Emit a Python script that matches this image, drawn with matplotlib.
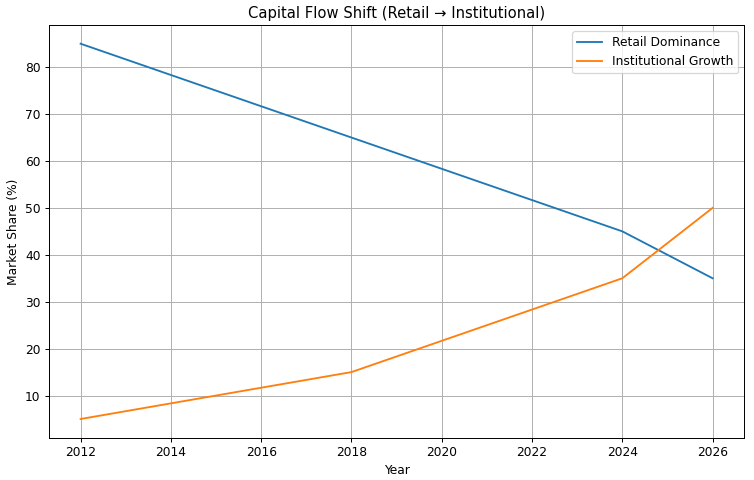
import matplotlib
matplotlib.use("Agg")
from matplotlib import pyplot as plt

years = [2012, 2018, 2024, 2026]
retail = [85, 65, 45, 35]
institutional = [5, 15, 35, 50]

# reference looks like a slightly larger figure scaled down, so shrink dpi
scale = 0.887
plt.figure(figsize=(7.54 / scale, 4.8 / scale), dpi=100 * scale)
plt.plot(years, retail, label="Retail Dominance")
plt.plot(years, institutional, label="Institutional Growth")
plt.xticks(range(2012, 2027, 2))
plt.xlabel("Year")
plt.ylabel("Market Share (%)")
plt.title("Capital Flow Shift (Retail \u2192 Institutional)")
plt.legend()
plt.grid(True)
plt.subplots_adjust(left=0.065, right=0.987, top=0.948, bottom=0.088)
plt.savefig("out.png", dpi=100 * scale)
